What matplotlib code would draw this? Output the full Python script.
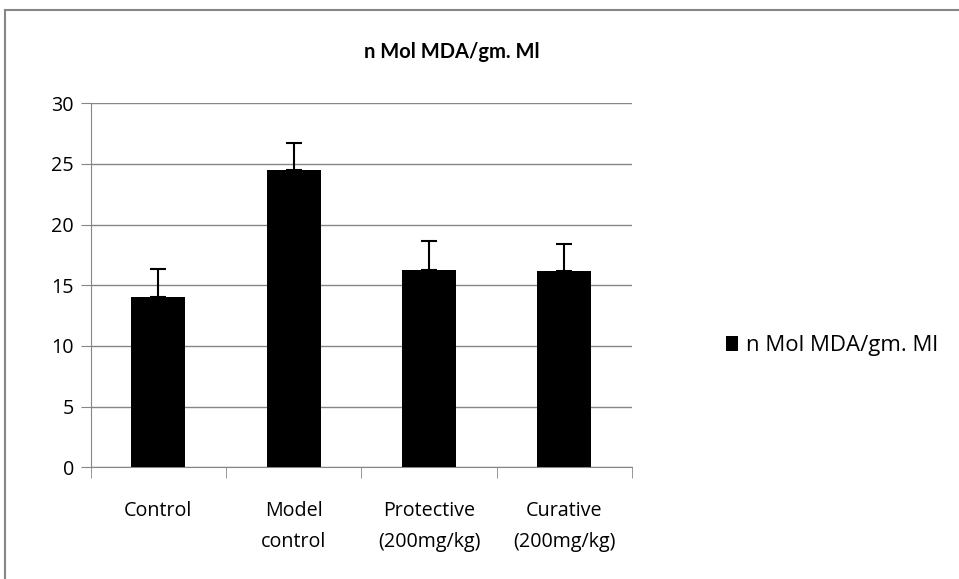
import matplotlib.pyplot as plt
import numpy as np
from matplotlib.patches import Rectangle

# Datos
grupos = ["Control", "Model\ncontrol", "Protective\n(200mg/kg)", "Curative\n(200mg/kg)"]
valores = [14.0, 24.5, 16.3, 16.2]
errores = [2.35, 2.25, 2.35, 2.2]
serie = "n Mol MDA/gm. Ml"
yticks = [0, 5, 10, 15, 20, 25, 30]

plt.rcParams['font.family'] = ['Open Sans', 'DejaVu Sans']
gris = "#868686"

fig = plt.figure(figsize=(9.59, 5.79), dpi=100)
W, H = 959, 579
ax = fig.add_axes([90.7 / W, 1 - 467.3 / H, (632 - 90.7) / W, (467.3 - 103.3) / H])

x = np.arange(len(grupos))
ax.bar(x, valores, width=0.4, color="black", zorder=3, label=serie)
ax.errorbar(x, valores, yerr=[np.zeros(len(errores)), errores], fmt="none",
            ecolor="black", elinewidth=1.5, capsize=6, capthick=1.5, zorder=4)

ax.set_xlim(-0.5, len(grupos) - 0.5)
ax.set_ylim(0, 30)
ax.set_yticks(yticks)
ax.yaxis.grid(True, color=gris, linewidth=1)
ax.set_axisbelow(True)

ax.set_xticks(x)
ax.set_xticklabels(grupos, fontsize=14.2, linespacing=1.75)
ax.set_xticks(np.arange(-0.5, len(grupos), 1), minor=True)
ax.tick_params(axis="x", which="major", length=0, pad=24)
ax.tick_params(axis="x", which="minor", length=8, color=gris, direction="out")
ax.tick_params(axis="y", length=7, color=gris, labelsize=14.2, pad=5)

for s in ["top", "right"]:
    ax.spines[s].set_visible(False)
for s in ["left", "bottom"]:
    ax.spines[s].set_color(gris)

fig.text(451.5 / W, 1 - 52 / H, serie, fontsize=14.5, fontweight="bold",
         family=["Lato", "DejaVu Sans"], ha="center", va="center")

ax.legend(loc="center left", bbox_to_anchor=((726 - 90.7) / (632 - 90.7), (467.3 - 346) / 364),
          frameon=False, fontsize=16, handlelength=0.55, handleheight=0.65,
          handletextpad=0.35, borderaxespad=0, borderpad=0)

# Marco exterior del grafico
fig.patches.append(Rectangle((5 / W, -0.1), 1.1, 1 - 10 / H + 0.1, transform=fig.transFigure,
                             fill=False, edgecolor=gris, linewidth=1.5))

fig.savefig("out.png", dpi=100)
